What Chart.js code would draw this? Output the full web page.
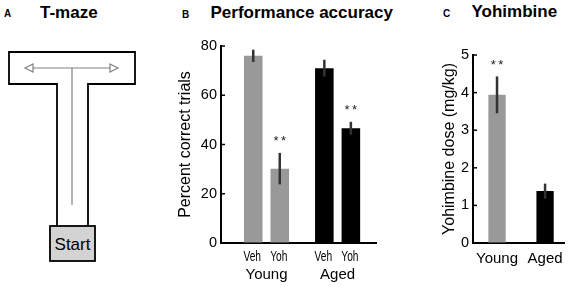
<!DOCTYPE html>
<html>
<head>
<meta charset="utf-8">
<script src="https://cdn.jsdelivr.net/npm/chart.js@4.4.1/dist/chart.umd.min.js"></script>
<style>
  html, body { margin: 0; padding: 0; background: #fff; }
  #fig { position: relative; width: 570px; height: 287px; overflow: hidden; }
  #fig svg, #fig canvas { position: absolute; top: 0; }
  #fig text { font-family: "Liberation Sans", Arial, sans-serif; }
</style>
</head>
<body>
<div id="fig">
  <svg width="570" height="287" style="left:0">
    <!-- panel titles -->
    <text x="4" y="17" font-size="10" font-weight="bold">A</text>
    <text x="40" y="18" font-size="17" font-weight="bold">T-maze</text>
    <text x="182" y="18" font-size="10" font-weight="bold">B</text>
    <text x="210.5" y="18" font-size="17" font-weight="bold">Performance accuracy</text>
    <text x="443" y="17" font-size="10" font-weight="bold">C</text>
    <text x="471.5" y="17" font-size="17" font-weight="bold">Yohimbine</text>

    <!-- T-maze sketch -->
    <path d="M57 226 V84 H9 V52 H135 V84 H88 V226" fill="none" stroke="#000" stroke-width="1.8"/>
    <g stroke="#808080" stroke-width="1.2" fill="none">
      <line x1="72" y1="68" x2="72" y2="205"/>
      <line x1="33" y1="68" x2="110" y2="68"/>
      <path d="M33 64 L25 68 L33 72 Z"/>
      <path d="M110 64 L118 68 L110 72 Z"/>
    </g>
    <rect x="50" y="226" width="45" height="35" fill="#d3d3d3" stroke="#000" stroke-width="1.8"/>
    <text x="72.5" y="250" font-size="17" text-anchor="middle">Start</text>
  </svg>
  <canvas id="chartB" width="230" height="287" style="left:160px"></canvas>
  <canvas id="chartC" width="160" height="287" style="left:410px"></canvas>
</div>
<script>
// --- data ---
const groups = ['Young', 'Aged'];
const treatments = ['Veh', 'Yoh'];
const accVeh = [76, 71];
const accVehSem = [2.5, 3.4];
const accYoh = [30.2, 46.6];
const accYohSem = [6.4, 2.6];
const accYohSig = ['**', '**'];
const accTicks = [0, 20, 40, 60, 80];
const dose = [3.94, 1.38];
const doseSem = [0.49, 0.2];
const doseSig = ['**', ''];
const doseTicks = [0, 1, 2, 3, 4, 5];

const FONT = '"Liberation Sans", Arial, sans-serif';
const groupColors = ['#999999', '#000000'];
const byId = (id) => document.getElementById(id);

Chart.defaults.font.family = FONT;
Chart.defaults.color = '#000';

// error bars, significance stars, bar labels and inward y ticks
const marks = {
  id: 'marks',
  afterDatasetsDraw(chart) {
    const { ctx, scales: { y }, chartArea } = chart;
    chart.data.datasets.forEach((ds, di) => {
      chart.getDatasetMeta(di).data.forEach((bar, i) => {
        const v = ds.data[i].y, e = ds.sem[i];
        const top = y.getPixelForValue(v + e);
        const bot = y.getPixelForValue(v - e);
        ctx.save();
        ctx.strokeStyle = '#333';
        ctx.lineWidth = 2.5;
        ctx.beginPath();
        ctx.moveTo(bar.x, top);
        ctx.lineTo(bar.x, bot);
        ctx.stroke();
        const s = ds.sig && ds.sig[i];
        if (s) {
          ctx.fillStyle = '#222';
          ctx.font = '13px ' + FONT;
          ctx.textAlign = 'center';
          [...s].forEach((c, k) => ctx.fillText(c, bar.x + (k - (s.length - 1) / 2) * 7.5, top - 7.5));
        }
        if (ds.underLabel) {
          ctx.fillStyle = '#000';
          ctx.font = '15px ' + FONT;
          ctx.textAlign = 'center';
          ctx.textBaseline = 'middle';
          ctx.translate(bar.x - 1, chartArea.bottom + 14);
          ctx.scale(0.68, 1);
          ctx.fillText(ds.label, 0, 0);
        }
        ctx.restore();
      });
    });
  },
  afterDraw(chart) {
    const { ctx, scales: { y }, chartArea } = chart;
    ctx.save();
    ctx.strokeStyle = '#000';
    ctx.lineWidth = 1.5;
    y.ticks.forEach(t => {
      const py = y.getPixelForValue(t.value);
      ctx.beginPath();
      ctx.moveTo(chartArea.left, py);
      ctx.lineTo(chartArea.left + 4, py);
      ctx.stroke();
    });
    ctx.restore();
  }
};

function yAxis(ticks, title, width, titlePad) {
  return {
    min: ticks[0], max: ticks[ticks.length - 1],
    afterBuildTicks: s => { s.ticks = ticks.map(v => ({ value: v })); },
    ticks: { padding: 4, font: { size: 14.5 } },
    grid: { drawOnChartArea: false, drawTicks: false },
    border: { color: '#000', width: 2 },
    title: { display: true, text: title, font: { size: 16 }, padding: { top: titlePad, bottom: 0 } },
    afterFit: s => { s.width = width; }
  };
}

function xAxis(min, max, pad) {
  return {
    type: 'linear', min, max, offset: false,
    afterBuildTicks: s => { s.ticks = groups.map((g, i) => ({ value: i })); },
    ticks: { callback: v => groups[v], padding: pad, font: { size: 15 }, maxRotation: 0 },
    grid: { display: false, drawTicks: false, offset: false },
    border: { color: '#000', width: 2 },
    afterFit: s => { s.height = 44; }
  };
}

const base = {
  animation: false,
  responsive: false,
  plugins: { legend: { display: false }, tooltip: { enabled: false } }
};

// B: performance accuracy
new Chart(byId('chartB'), {
  type: 'bar',
  data: {
    datasets: treatments.map((t, k) => ({
      label: t,
      data: (k ? accYoh : accVeh).map((v, i) => ({ x: i, y: v })),
      sem: k ? accYohSem : accVehSem,
      sig: k ? accYohSig : null,
      underLabel: true,
      backgroundColor: groupColors,
      categoryPercentage: 0.746,
      barPercentage: 0.7
    }))
  },
  options: {
    ...base,
    layout: { padding: { top: 46, right: 14, left: 0, bottom: 0 } },
    scales: {
      x: xAxis(-0.64, 1.54, 23),
      y: yAxis(accTicks, 'Percent correct trials', 61, 16)
    }
  },
  plugins: [marks]
});

// C: yohimbine dose
new Chart(byId('chartC'), {
  type: 'bar',
  data: {
    datasets: [{
      label: 'Yohimbine',
      data: dose.map((v, i) => ({ x: i, y: v })),
      sem: doseSem,
      sig: doseSig,
      backgroundColor: groupColors,
      categoryPercentage: 1,
      barPercentage: 0.36
    }]
  },
  options: {
    ...base,
    layout: { padding: { top: 55, right: 2, left: 0, bottom: 0 } },
    scales: {
      x: xAxis(-0.5, 1.4, 7),
      y: yAxis(doseTicks, 'Yohimbine dose (mg/kg)', 63, 30)
    }
  },
  plugins: [marks]
});
</script>
</body>
</html>
